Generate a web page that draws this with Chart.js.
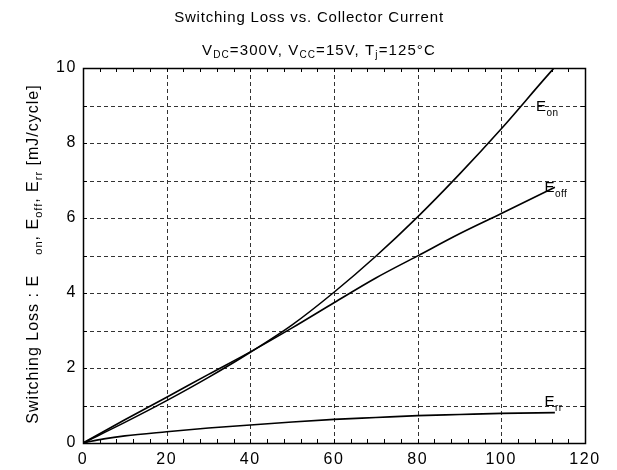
<!DOCTYPE html>
<html>
<head>
<meta charset="utf-8">
<script src="https://cdn.jsdelivr.net/npm/chart.js@4/dist/chart.umd.min.js"></script>
<style>
html,body{margin:0;padding:0;background:#fff;}
#wrap{width:617px;height:470px;}
</style>
</head>
<body>
<div id="wrap"><canvas id="c" width="617" height="470"></canvas></div>
<script>
// Collector current (A) and switching loss (mJ/cycle)
const eonCurrent  = [0, 10, 20, 30, 40, 50, 60, 70, 80, 90, 100, 110, 112.6];
const eonLoss     = [0, 0.55, 1.13, 1.75, 2.42, 3.15, 4.02, 4.98, 6.03, 7.17, 8.38, 9.67, 10.0];
const eoffCurrent = [0, 10, 20, 30, 40, 50, 60, 70, 80, 90, 100, 112.8];
const eoffLoss    = [0, 0.62, 1.22, 1.83, 2.43, 3.07, 3.74, 4.40, 4.99, 5.58, 6.12, 6.82];
const errCurrent  = [0, 5, 10, 20, 30, 40, 50, 60, 70, 80, 90, 100, 112.8];
const errLoss     = [0, 0.11, 0.19, 0.30, 0.40, 0.48, 0.56, 0.63, 0.68, 0.73, 0.76, 0.79, 0.81];
const xTickLabels = [0, 20, 40, 60, 80, 100, 120];
const yTickLabels = [0, 2, 4, 6, 8, 10];
const titleText = 'Switching Loss vs. Collector Current';
// curve labels: [main, subscript, anchor current, anchor loss]
const curveLabels = [['E','on',108.3,8.85],['E','off',110.3,6.7],['E','rr',110.3,0.98]];

const FONT = '"Liberation Sans", Arial, sans-serif';
const toPts = (xs, ys) => xs.map((x, i) => ({x: x, y: ys[i]}));

function drawRich(ctx, parts, x, y, align, spacing) {
  // parts: [text, size, dy]
  ctx.letterSpacing = (spacing || 0) + 'px';
  let total = 0;
  parts.forEach(p => { ctx.font = p[1] + 'px ' + FONT; total += ctx.measureText(p[0]).width; });
  let cx = align === 'center' ? x - total / 2 : x;
  ctx.textAlign = 'left';
  ctx.textBaseline = 'alphabetic';
  parts.forEach(p => {
    ctx.font = p[1] + 'px ' + FONT;
    ctx.fillText(p[0], cx, y + p[2]);
    cx += ctx.measureText(p[0]).width;
  });
  ctx.letterSpacing = '0px';
}

const framePlugin = {
  id: 'frame',
  beforeDraw(chart) {
    chart.ctx.letterSpacing = '1.6px';
  },
  beforeDatasetsDraw(chart) {
    const ctx = chart.ctx, a = chart.chartArea;
    const xs = chart.scales.x, ys = chart.scales.y;
    ctx.save();
    ctx.strokeStyle = '#333';
    ctx.lineWidth = 1;
    ctx.setLineDash([4, 3]);
    for (let v = 20; v < 120; v += 20) {
      const px = Math.round(xs.getPixelForValue(v)) + 0.5;
      ctx.beginPath(); ctx.moveTo(px, a.top); ctx.lineTo(px, a.bottom); ctx.stroke();
    }
    for (let v = 1; v < 10; v += 1) {
      const py = Math.round(ys.getPixelForValue(v)) + 0.5;
      ctx.beginPath(); ctx.moveTo(a.left, py); ctx.lineTo(a.right, py); ctx.stroke();
    }
    ctx.setLineDash([]);
    ctx.strokeStyle = '#000';
    for (let v = 4; v < 120; v += 4) {
      const px = Math.round(xs.getPixelForValue(v)) + 0.5;
      ctx.beginPath(); ctx.moveTo(px, a.bottom); ctx.lineTo(px, a.bottom - 4); ctx.stroke();
      ctx.beginPath(); ctx.moveTo(px, a.top); ctx.lineTo(px, a.top + 4); ctx.stroke();
    }
    for (let v = 1; v < 10; v += 1) {
      const py = Math.round(ys.getPixelForValue(v)) + 0.5;
      ctx.beginPath(); ctx.moveTo(a.left, py); ctx.lineTo(a.left + 4, py); ctx.stroke();
      ctx.beginPath(); ctx.moveTo(a.right, py); ctx.lineTo(a.right - 4, py); ctx.stroke();
    }
    ctx.lineWidth = 1.5;
    ctx.strokeRect(Math.round(a.left) + 0.5, Math.round(a.top) + 0.5,
                   Math.round(a.right - a.left), Math.round(a.bottom - a.top));
    ctx.restore();
  },
  afterDraw(chart) {
    const ctx = chart.ctx;
    const xs = chart.scales.x, ys = chart.scales.y;
    ctx.save();
    ctx.fillStyle = '#000';
    drawRich(ctx, [[titleText,15,0]], 309, 22, 'center', 0.8);
    drawRich(ctx, [['V',15,0],['DC',10,3],['=300V, V',15,0],['CC',10,3],['=15V, T',15,0],['j',10,3],['=125°C',15,0]], 319, 55, 'center', 1.1);
    curveLabels.forEach(l => {
      const px = xs.getPixelForValue(l[2]);
      const py = ys.getPixelForValue(l[3]);
      drawRich(ctx, [[l[0],15,0],[l[1],10,5]], px, py, 'left', 0.5);
    });
    ctx.translate(38, 254);
    ctx.rotate(-Math.PI / 2);
    drawRich(ctx, [['Switching Loss : E',16,0],['     on',11,4],[', E',16,0],['off',11,4],[', E',16,0],['rr',11,4],[' [mJ/cycle]',16,0]], 0, 0, 'center', 1.0);
    ctx.restore();
  }
};

new Chart(document.getElementById('c'), {
  type: 'line',
  data: {
    datasets: [
      {label: 'Eon', data: toPts(eonCurrent, eonLoss)},
      {label: 'Eoff', data: toPts(eoffCurrent, eoffLoss)},
      {label: 'Err', data: toPts(errCurrent, errLoss)}
    ].map(d => Object.assign(d, {borderColor: '#000', borderWidth: 1.6, pointRadius: 0, cubicInterpolationMode: 'monotone', fill: false}))
  },
  options: {
    responsive: false,
    animation: false,
    events: [],
    layout: {padding: {top: 68, right: 32, left: 0, bottom: 0}},
    plugins: {legend: {display: false}, tooltip: {enabled: false}, title: {display: false}},
    scales: {
      x: {
        type: 'linear', min: 0, max: 120,
        afterBuildTicks: s => { s.ticks = xTickLabels.map(v => ({value: v})); },
        afterFit: s => { s.height = 27; },
        grid: {display: false, drawTicks: false},
        border: {display: false},
        ticks: {color: '#000', font: {family: FONT, size: 16}, padding: 7, maxRotation: 0, autoSkip: false}
      },
      y: {
        type: 'linear', min: 0, max: 10,
        afterBuildTicks: s => { s.ticks = yTickLabels.map(v => ({value: v})); },
        afterFit: s => { s.width = 83; },
        grid: {display: false, drawTicks: false},
        border: {display: false},
        ticks: {color: '#000', font: {family: FONT, size: 16}, padding: 6, autoSkip: false}
      }
    }
  },
  plugins: [framePlugin]
});
</script>
</body>
</html>
